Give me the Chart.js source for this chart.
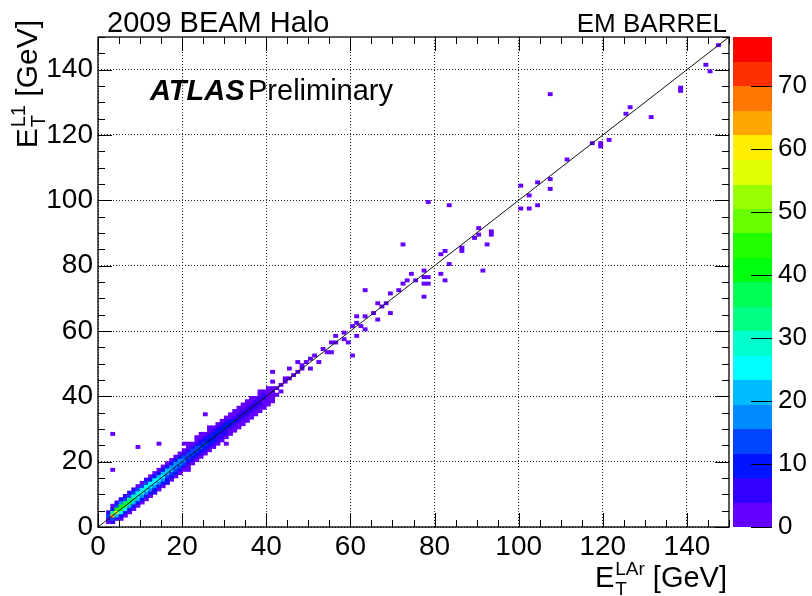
<!DOCTYPE html>
<html>
<head>
<meta charset="utf-8">
<script src="https://cdn.jsdelivr.net/npm/chart.js@4/dist/chart.umd.min.js"></script>
<style>
  html, body { margin: 0; padding: 0; background: #fff; }
  #wrap { width: 812px; height: 596px; position: relative; }
</style>
</head>
<body>
<div id="wrap"><canvas id="c" width="812" height="596"></canvas></div>
<script>
// ---------------- values ----------------
const axisTicks = [0, 20, 40, 60, 80, 100, 120, 140];   // labelled ticks, both axes (GeV)
const zTicks = [0, 10, 20, 30, 40, 50, 60, 70];          // colour-scale labels (entries)
const axisMax = 150;
const zMax = 77.7;                                       // top of the colour scale
const nContours = 20;

// core band: [E_T(LAr) bin, first E_T(L1) bin, entries in consecutive E_T(L1) bins]
const bandColumns = [
  [2, 1, [2, 6, 12, 4]],
  [3, 1, [4, 14, 66, 34, 10, 3]],
  [4, 2, [5, 22, 56, 44, 15, 4]],
  [5, 2, [2, 8, 26, 46, 40, 16, 5]],
  [6, 3, [3, 8, 24, 43, 38, 15, 4]],
  [7, 4, [3, 9, 22, 40, 34, 14, 4]],
  [8, 5, [2, 9, 21, 35, 31, 13, 4]],
  [9, 6, [3, 9, 20, 31, 29, 13, 3]],
  [10, 7, [2, 9, 19, 29, 27, 12, 3]],
  [11, 8, [3, 9, 18, 28, 26, 12, 4]],
  [12, 9, [3, 9, 17, 27, 25, 11, 3]],
  [13, 10, [4, 9, 17, 26, 24, 11, 3]],
  [14, 11, [3, 9, 16, 25, 23, 10, 3]],
  [15, 12, [3, 8, 16, 24, 22, 10, 2]],
  [16, 13, [4, 8, 15, 23, 20, 9, 3]],
  [17, 14, [3, 8, 14, 21, 19, 9, 2]],
  [18, 15, [3, 8, 13, 19, 18, 8, 3]],
  [19, 16, [2, 7, 12, 18, 16, 8, 2]],
  [20, 17, [3, 7, 12, 17, 15, 7, 3]],
  [21, 18, [2, 6, 11, 15, 14, 7, 2]],
  [22, 19, [3, 6, 10, 14, 13, 6, 3]],
  [23, 20, [2, 6, 10, 13, 12, 6, 2, 1]],
  [24, 21, [2, 5, 9, 12, 11, 6, 3, 1]],
  [25, 22, [1, 5, 9, 12, 11, 5, 2]],
  [26, 23, [2, 5, 8, 11, 10, 5, 2, 1]],
  [27, 24, [1, 4, 8, 10, 10, 5, 2]],
  [28, 25, [2, 4, 7, 10, 9, 4, 2]],
  [29, 26, [1, 4, 7, 9, 9, 4, 1]],
  [30, 27, [2, 4, 6, 9, 8, 4, 2]],
  [31, 28, [1, 3, 6, 8, 8, 3, 1]],
  [32, 29, [1, 3, 6, 8, 7, 3, 2]],
  [33, 30, [1, 3, 5, 7, 7, 3, 1]],
  [34, 31, [2, 3, 5, 7, 6, 3, 1]],
  [35, 32, [1, 3, 5, 6, 6, 2, 1]],
  [36, 33, [1, 2, 4, 6, 5, 2, 1]],
  [37, 34, [1, 2, 4, 5, 5, 2]],
  [38, 35, [1, 2, 4, 5, 4, 2, 1]],
  [39, 36, [1, 2, 3, 4, 4, 2]],
  [40, 37, [1, 2, 3, 3, 2, 1]],
  [41, 38, [1, 2, 2, 2, 1]]
];

// isolated entries outside the core band
const strayX = [3, 3, 9, 14, 20, 21, 21, 25, 30, 41, 41, 42, 42, 43, 43, 44, 44, 45, 46, 45,
  47, 47, 48, 48, 49, 50, 50, 51, 52, 53, 54, 55, 55, 56, 56, 58, 59, 58, 60, 60,
  61, 61, 62, 61, 63, 63, 63, 65, 66, 66, 67, 68, 69, 69, 71, 72, 73, 74, 75, 77,
  77, 77, 78, 78, 77, 81, 82, 83, 81, 82, 72, 78, 83, 86, 86, 89, 90, 90, 92, 93,
  93, 91, 100, 100, 102, 102, 104, 104, 107, 107, 111, 107, 117, 119, 119, 121, 125, 126, 131, 138,
  138, 144, 145, 147];
const strayY = [28, 17, 24, 25, 25, 25, 17, 34, 25, 47, 44, 40, 42, 43, 41, 45, 44, 45, 46, 48,
  47, 50, 49, 48, 50, 48, 51, 52, 50, 54, 53, 53, 56, 56, 58, 57, 56, 59, 52, 61,
  62, 64, 61, 58, 60, 64, 72, 65, 63, 68, 67, 68, 71, 65, 72, 74, 75, 77, 75, 78,
  76, 74, 74, 76, 70, 77, 75, 80, 83, 84, 86, 99, 98, 84, 85, 88, 91, 89, 86, 89,
  90, 78, 104, 97, 101, 97, 105, 98, 106, 103, 112, 132, 117, 116, 117, 118, 126, 128, 125, 133,
  134, 141, 139, 147];
const strayN = [1, 1, 1, 1, 1, 1, 1, 1, 1, 1, 1, 2, 2, 2, 1, 1, 2, 1, 1, 1,
  1, 1, 1, 1, 1, 1, 1, 1, 1, 1, 2, 2, 1, 1, 1, 1, 1, 1, 1, 1,
  1, 1, 1, 1, 1, 1, 1, 1, 1, 1, 1, 1, 1, 1, 1, 1, 1, 1, 1, 1,
  1, 1, 1, 1, 1, 1, 1, 1, 1, 1, 1, 1, 1, 1, 1, 1, 1, 1, 1, 1,
  1, 1, 1, 1, 1, 1, 1, 1, 1, 1, 1, 1, 1, 1, 1, 1, 1, 1, 1, 1,
  1, 1, 1, 1];

// ---------------- helpers ----------------
const FONT = '"Liberation Sans", Arial, Helvetica, sans-serif';
Chart.defaults.font.family = FONT;
Chart.defaults.color = '#000';

// rainbow palette: violet -> red, 50 hues sampled by 20 contour levels
function contourHue(k) {
  const idx = Math.floor((k + 0.99) * 50 / nContours);
  return idx >= 49 ? 0 : 280 - (idx + 1) * 280 / 50;
}
function contourColor(k) { return 'hsl(' + contourHue(k) + ',100%,50%)'; }
function colorFor(n) {
  const k = Math.min(nContours - 1, Math.floor(0.01 + n * nContours / zMax));
  return contourColor(k);
}

// one floating bar per filled bin: x centre, y = [low edge, high edge]
const cells = [];
bandColumns.forEach(([bx, by0, counts]) => {
  counts.forEach((n, i) => {
    if (n > 0) cells.push({ x: bx + 0.5, y: [by0 + i, by0 + i + 1], n });
  });
});
strayX.forEach((bx, i) => {
  cells.push({ x: bx + 0.5, y: [strayY[i], strayY[i] + 1], n: strayN[i] });
});

const diagonal = [{ x: 0, y: 0 }, { x: axisMax, y: axisMax }];

// ---------------- plugins ----------------
const frameAndTicks = {
  id: 'frameAndTicks',
  afterDatasetsDraw(chart) {
    const { ctx, chartArea: a, scales: { x, y } } = chart;
    ctx.save();
    ctx.strokeStyle = '#000';
    ctx.lineWidth = 1.3;
    ctx.strokeRect(a.left, a.top, a.right - a.left, a.bottom - a.top);
    ctx.lineWidth = 1;
    ctx.beginPath();
    for (let v = 0; v <= axisMax; v += 5) {
      const major = v % 20 === 0;
      const lx = major ? 14 : 7;
      const px = Math.round(x.getPixelForValue(v)) + 0.5;
      ctx.moveTo(px, a.bottom); ctx.lineTo(px, a.bottom - lx);
      ctx.moveTo(px, a.top); ctx.lineTo(px, a.top + lx);
      const py = Math.round(y.getPixelForValue(v)) + 0.5;
      ctx.moveTo(a.left, py); ctx.lineTo(a.left + lx, py);
      ctx.moveTo(a.right, py); ctx.lineTo(a.right - lx, py);
    }
    ctx.stroke();
    ctx.restore();
  }
};

const colourBar = {
  id: 'colourBar',
  afterDraw(chart) {
    const { ctx, scales: { z } } = chart;
    const x0 = z.left + 4, w = 39;
    ctx.save();
    for (let k = 0; k < nContours; k++) {
      const yLo = z.getPixelForValue(k * zMax / nContours);
      const yHi = z.getPixelForValue((k + 1) * zMax / nContours);
      ctx.fillStyle = contourColor(k);
      ctx.fillRect(x0, Math.floor(yHi), w, Math.ceil(yLo) - Math.floor(yHi));
    }
    ctx.strokeStyle = '#000';
    ctx.lineWidth = 1;
    ctx.beginPath();
    zTicks.forEach(v => {
      const py = Math.round(z.getPixelForValue(v)) + 0.5;
      ctx.moveTo(x0 + w - 21, py); ctx.lineTo(x0 + w, py);
    });
    ctx.stroke();
    ctx.restore();
  }
};

function drawEnergyTitle(ctx, sup, xEnd, base, size) {
  const big = size + 'px ' + FONT, small = Math.round(size * 0.66) + 'px ' + FONT;
  ctx.font = big;
  const wE = ctx.measureText('E').width;
  const wRest = ctx.measureText(' [GeV]').width;
  ctx.font = small;
  const wMid = Math.max(ctx.measureText(sup).width, ctx.measureText('T').width) + 1;
  let cx = xEnd - (wE + wMid + wRest);
  ctx.font = big; ctx.fillText('E', cx, base); cx += wE;
  ctx.font = small;
  ctx.fillText(sup, cx + 1, base - 12);
  ctx.fillText('T', cx + 1, base + 8);
  cx += wMid;
  ctx.font = big; ctx.fillText(' [GeV]', cx, base);
}

const labels = {
  id: 'labels',
  afterDraw(chart) {
    const { ctx } = chart;
    ctx.save();
    ctx.fillStyle = '#000';
    ctx.textBaseline = 'alphabetic';
    ctx.textAlign = 'left';
    ctx.font = '29px ' + FONT;
    ctx.fillText('2009 BEAM Halo', 107, 32);
    ctx.textAlign = 'right';
    ctx.font = '26px ' + FONT;
    ctx.fillText('EM BARREL', 727, 32);
    ctx.textAlign = 'left';
    ctx.font = 'italic bold 29px ' + FONT;
    ctx.fillText('ATLAS', 150, 100);
    ctx.font = '29px ' + FONT;
    ctx.fillText('Preliminary', 248, 100);

    drawEnergyTitle(ctx, 'LAr', 727, 587, 29);

    ctx.translate(37, 0);
    ctx.rotate(-Math.PI / 2);
    drawEnergyTitle(ctx, 'L1', -20, 0, 30);
    ctx.restore();
  }
};

// ---------------- chart ----------------
const setTicks = list => scale => { scale.ticks = list.map(v => ({ value: v })); };
const noOverhang = s => { s.paddingTop = 0; s.paddingBottom = 0; s.paddingLeft = 0; s.paddingRight = 0; };

new Chart(document.getElementById('c'), {
  type: 'bar',
  data: {
    datasets: [
      {
        type: 'line',
        data: diagonal,
        borderColor: '#111',
        borderWidth: 1,
        pointRadius: 0,
        order: 0
      },
      {
        type: 'bar',
        data: cells,
        backgroundColor: c => colorFor(c.raw ? c.raw.n : 0),
        borderWidth: 0,
        barPercentage: 1,
        categoryPercentage: 1,
        grouped: false,
        order: 1
      }
    ]
  },
  options: {
    responsive: false,
    animation: false,
    layout: { padding: { top: 37, left: 0, right: 0, bottom: 0 } },
    plugins: { legend: { display: false }, tooltip: { enabled: false } },
    scales: {
      x: {
        type: 'linear', position: 'bottom', min: 0, max: axisMax, offset: false,
        grid: { offset: false, color: '#222', lineWidth: 1, drawTicks: false },
        border: { display: false, dash: [1, 2] },
        ticks: { font: { size: 28 }, color: '#000', padding: 3, maxRotation: 0, autoSkip: false },
        afterBuildTicks: setTicks(axisTicks),
        afterFit: s => { s.height = 69; noOverhang(s); }
      },
      y: {
        type: 'linear', position: 'left', min: 0, max: axisMax,
        grid: { color: '#222', lineWidth: 1, drawTicks: false },
        border: { display: false, dash: [1, 2] },
        ticks: { font: { size: 28 }, color: '#000', padding: 5, autoSkip: false },
        afterBuildTicks: setTicks(axisTicks),
        afterFit: s => { s.width = 98; noOverhang(s); }
      },
      z: {
        type: 'linear', axis: 'y', position: 'right', min: 0, max: zMax,
        grid: { display: false, drawTicks: false },
        border: { display: false },
        ticks: { font: { size: 26 }, color: '#000', padding: 49, autoSkip: false },
        afterBuildTicks: setTicks(zTicks),
        afterFit: s => { s.width = 83; noOverhang(s); }
      }
    }
  },
  plugins: [frameAndTicks, colourBar, labels]
});
</script>
</body>
</html>
